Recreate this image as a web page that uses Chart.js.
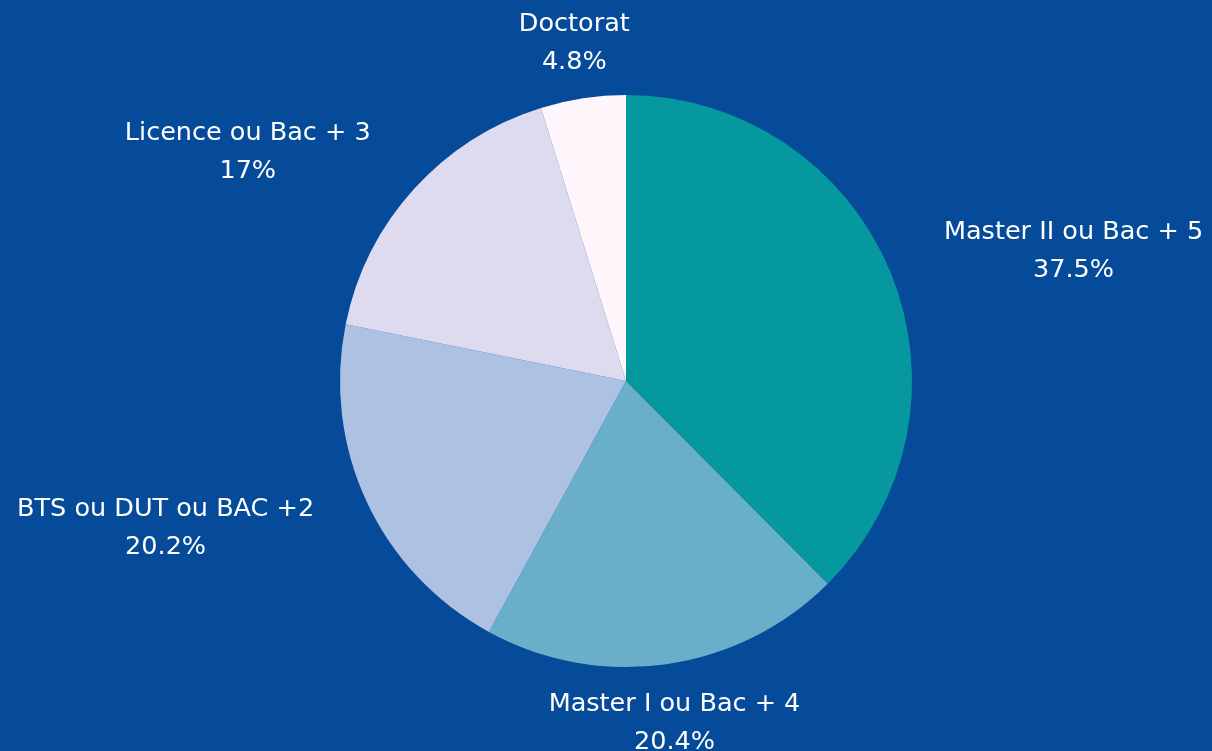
<!DOCTYPE html>
<html>
<head>
<meta charset="utf-8">
<script src="https://cdn.jsdelivr.net/npm/chart.js@4.4.1/dist/chart.umd.min.js"></script>
<style>
  html, body { margin: 0; padding: 0; background: #064A9A; }
  #wrap { width: 1212px; height: 751px; position: relative; }
</style>
</head>
<body>
<div id="wrap"><canvas id="c" width="1212" height="751"></canvas></div>
<script>
const categories = ["Master II ou Bac + 5", "Master I ou Bac + 4", "BTS ou DUT ou BAC +2", "Licence ou Bac + 3", "Doctorat"];
const values = [37.5, 20.4, 20.2, 17, 4.8];
const sliceColors = ["#05989E", "#6AAFCA", "#ADC2E3", "#DEDAF0", "#FFF6FC"];

const FONT = '500 25.5px "DejaVu Sans", sans-serif';
const labelPlugin = {
  id: 'outerLabels',
  afterDraw(chart) {
    const ctx = chart.ctx;
    const meta = chart.getDatasetMeta(0);
    ctx.save();
    ctx.font = FONT;
    ctx.fillStyle = '#FFFFFF';
    ctx.textBaseline = 'middle';
    meta.data.forEach((arc, i) => {
      const mid = (arc.startAngle + arc.endAngle) / 2;
      const r = arc.outerRadius + 58;
      const ax = arc.x + Math.cos(mid) * r;
      const ay = arc.y + Math.sin(mid) * r + 2;
      const lines = [categories[i], values[i] + '%'];
      const w = Math.max(...lines.map(l => ctx.measureText(l).width));
      let cx;
      const c = Math.cos(mid);
      if (Math.abs(c) < 0.3) cx = ax;
      else if (c > 0) cx = ax + w / 2;
      else cx = ax - w / 2;
      const lh = 38;
      ctx.textAlign = 'center';
      lines.forEach((l, k) => {
        ctx.fillText(l, cx, ay + (k - (lines.length - 1) / 2) * lh);
      });
    });
    ctx.restore();
  }
};

new Chart(document.getElementById('c'), {
  type: 'pie',
  data: {
    labels: categories,
    datasets: [{
      data: values,
      backgroundColor: sliceColors,
      borderWidth: 0
    }]
  },
  options: {
    responsive: false,
    animation: false,
    layout: { padding: { left: 340, right: 300, top: 95, bottom: 84 } },
    plugins: { legend: { display: false }, tooltip: { enabled: false } }
  },
  plugins: [labelPlugin]
});
</script>
</body>
</html>
